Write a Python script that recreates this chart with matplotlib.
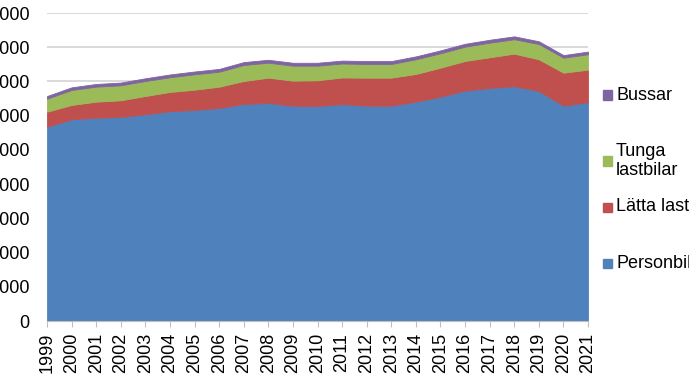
import numpy as np
import matplotlib
matplotlib.use("Agg")
import matplotlib.pyplot as plt
from matplotlib.patches import Rectangle

years = list(range(1999, 2022))
personbilar = [56780, 58940, 59410, 59610, 60400, 61280, 61660, 62240, 63410, 63710,
               62920, 62830, 63350, 62920, 62920, 64090, 65550, 67300, 68090, 68590,
               67210, 62920, 63910]
latta_lastbilar = [4380, 4180, 4680, 4880, 5350, 5640, 5930, 6220, 6720, 7390,
                   7310, 7510, 7800, 8180, 8180, 8090, 8470, 8680, 8970, 9530,
                   9260, 9640, 9530]
tunga_lastbilar = [3800, 4380, 4380, 4380, 4380, 4300, 4500, 4380, 4680, 4380,
                   4380, 4270, 4090, 4000, 4000, 4300, 4210, 4180, 4270, 4210,
                   4470, 4380, 4500]
bussar = [780, 780, 800, 800, 800, 820, 820, 820, 850, 850,
          850, 850, 850, 850, 850, 850, 850, 850, 850, 850,
          800, 760, 780]

labels = ["Personbilar", "Lätta lastbilar", "Tunga\nlastbilar", "Bussar"]
colors = ["#4F81BD", "#C0504D", "#9BBB59", "#8064A2"]
yticks = list(range(0, 90001, 10000))

plt.rcParams['font.family'] = ['Liberation Sans', 'DejaVu Sans']
FS = 13

fig = plt.figure(figsize=(6.89, 3.87), dpi=100)
ax = fig.add_axes([47/689, 1-321/387, 541/689, 308/387])

polys = ax.stackplot(years, personbilar, latta_lastbilar, tunga_lastbilar, bussar,
                     colors=colors, zorder=2)
for p, c in zip(polys, colors):
    p.set_edgecolor(c)
    p.set_linewidth(0.6)

ax.set_xlim(years[0], years[-1])
ax.set_ylim(0, 90000)
ax.set_xticks(years)
ax.set_xticklabels([str(y) for y in years], rotation=90, fontsize=FS)
ax.set_yticks(yticks)
ax.set_yticklabels([f"{v:,}".replace(",", " ") for v in yticks], fontsize=FS)
ax.tick_params(axis='y', length=0, pad=12.7)
ax.tick_params(axis='x', length=4.5, color='#BFBFBF', pad=4)

ax.grid(axis='y', color='#CFCFCF', linewidth=1.1, zorder=0)
ax.set_axisbelow(True)
for s in ['top', 'right', 'left']:
    ax.spines[s].set_visible(False)
ax.spines['bottom'].set_color('#BFBFBF')
ax.spines['bottom'].set_zorder(3)

# legend, drawn by hand to match the spacing
leg_y = [95, 161, 207, 263]
for lab, c, y in zip(labels[::-1], colors[::-1], leg_y):
    fig.patches.append(Rectangle((603/689, 1-(y+4.5)/387), 9/689, 9/387,
                                 transform=fig.transFigure, color=c))
    fig.text(616/689, 1-y/387, lab, fontsize=FS, va='center', ha='left',
             linespacing=1.15)

fig.savefig("out.png", dpi=100)
